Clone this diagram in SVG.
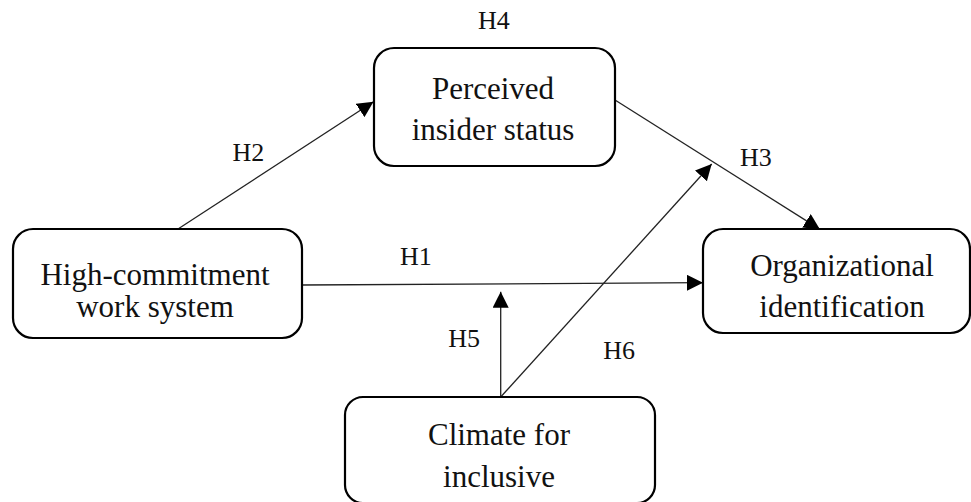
<svg xmlns="http://www.w3.org/2000/svg" width="971" height="502" viewBox="0 0 971 502">
<style>
.box{fill:#fff;stroke:#000;stroke-width:2.2}
.t{font-family:"Liberation Serif","Times New Roman",serif;font-size:31px;fill:#111;text-anchor:middle}
.h{font-family:"Liberation Serif","Times New Roman",serif;font-size:26px;fill:#111}
.c{stroke:#222;stroke-width:1.3;fill:none;marker-end:url(#ah)}
</style>
<defs>
<marker id="ah" markerUnits="userSpaceOnUse" markerWidth="16" markerHeight="16" viewBox="0 0 14 14" refX="14" refY="7" orient="auto">
<path d="M0,0 L14,7 L0,14 Z" fill="#000"/>
</marker>
</defs>
<rect width="971" height="502" fill="#fff"/>
<g id="connectors">
<line class="c" x1="178" y1="229" x2="373.5" y2="101.7"/>
<line class="c" x1="615" y1="100" x2="820" y2="229.4"/>
<line class="c" x1="302" y1="285" x2="703" y2="282.7"/>
<line class="c" x1="500.7" y1="397" x2="500.7" y2="291.7"/>
<line class="c" x1="500.7" y1="397" x2="711.7" y2="164"/>
</g>
<g id="labels">
<text class="h" x="478" y="29">H4</text>
<text class="h" x="232.5" y="161">H2</text>
<text class="h" x="740" y="166">H3</text>
<text class="h" x="400" y="265">H1</text>
<text class="h" x="448.3" y="347.3">H5</text>
<text class="h" x="603.3" y="359.3">H6</text>
</g>
<g id="node-pis">
<rect class="box" x="374" y="48" width="241" height="118" rx="20"/>
<text class="t" x="493" y="99">Perceived</text>
<text class="t" x="493" y="140">insider status</text>
</g>
<g id="node-hcws">
<rect class="box" x="13" y="229" width="289" height="109" rx="20"/>
<text class="t" x="155" y="285">High-commitment</text>
<text class="t" x="155" y="317">work system</text>
</g>
<g id="node-oi">
<rect class="box" x="703" y="229" width="267" height="104" rx="20"/>
<text class="t" x="842" y="276">Organizational</text>
<text class="t" x="842" y="317">identification</text>
</g>
<g id="node-cfi">
<rect class="box" x="345" y="397" width="310" height="106" rx="18"/>
<text class="t" x="499" y="445">Climate for</text>
<text class="t" x="499" y="487">inclusive</text>
</g>
</svg>
